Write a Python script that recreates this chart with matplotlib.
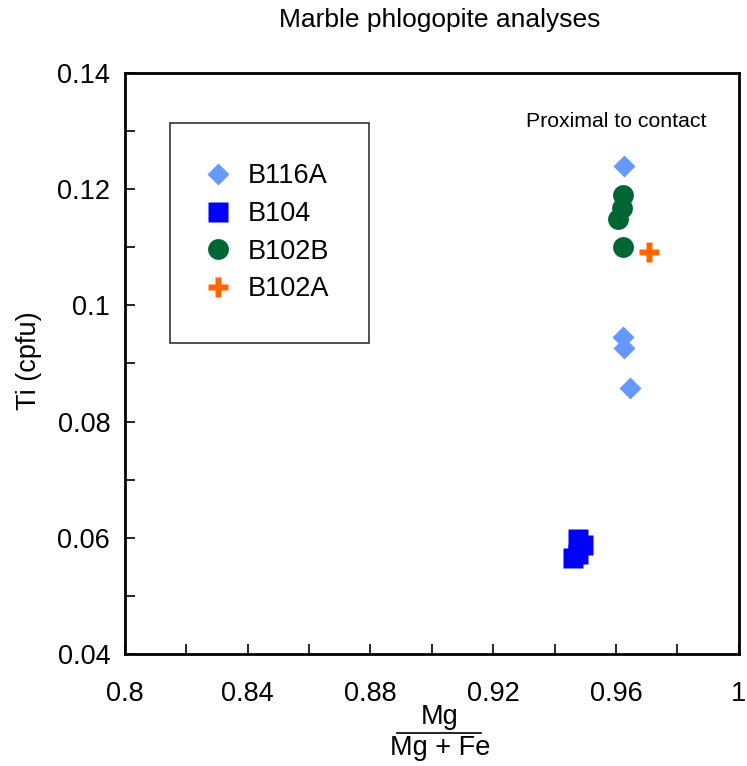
import matplotlib
matplotlib.use("Agg")
import matplotlib.pyplot as plt

plt.rcParams['font.family'] = ['Liberation Sans', 'DejaVu Sans']

# data
b116a_x = [0.9626, 0.9624, 0.9626, 0.9646]
b116a_y = [0.1239, 0.0945, 0.0926, 0.0857]
b104_x = [0.9475, 0.9492, 0.9476, 0.9459]
b104_y = [0.0598, 0.0587, 0.0573, 0.0565]
b102b_x = [0.9623, 0.9621, 0.9607, 0.9623]
b102b_y = [0.1190, 0.1167, 0.1148, 0.1100]
b102a_x = [0.9707]
b102a_y = [0.1091]

xticks = [0.8, 0.84, 0.88, 0.92, 0.96, 1.0]
xticklabels = ['0.8', '0.84', '0.88', '0.92', '0.96', '1']
xminor = [0.82, 0.86, 0.90, 0.94, 0.98]
yticks = [0.04, 0.06, 0.08, 0.1, 0.12, 0.14]
yticklabels = ['0.04', '0.06', '0.08', '0.1', '0.12', '0.14']
yminor = [0.05, 0.07, 0.09, 0.11, 0.13]

fig = plt.figure(figsize=(7.47, 7.66), dpi=100)
ax = fig.add_axes([0.167, 0.146, 0.822, 0.759])

ax.plot(b116a_x, b116a_y, 'D', color='#6699ff', ms=11.5, mec='none', label='B116A')
ax.plot(b104_x, b104_y, 's', color='#0000ff', ms=14, mec='none', label='B104')
ax.plot(b102b_x, b102b_y, 'o', color='#006633', ms=15, mec='none', label='B102B')
ax.plot(b102a_x, b102a_y, 'P', color='#ff6600', ms=15, mec='none', label='B102A')

ax.set_xlim(0.8, 1.0)
ax.set_ylim(0.04, 0.14)
ax.set_xticks(xticks)
ax.set_xticklabels(xticklabels)
ax.set_xticks(xminor, minor=True)
ax.set_yticks(yticks)
ax.set_yticklabels(yticklabels)
ax.set_yticks(yminor, minor=True)
ax.tick_params(axis='x', which='both', direction='in', length=7, width=1.2,
               labelsize=19.5, pad=19)
ax.tick_params(axis='y', which='both', direction='in', length=7, width=1.2,
               labelsize=19.5, pad=10.5)
for s in ax.spines.values():
    s.set_linewidth(2)

ax.set_ylabel('Ti (cpfu)', fontsize=19.5)
ax.yaxis.set_label_coords(-0.135, 0.505)
fig.text(0.588, 0.974, 'Marble phlogopite analyses', ha='center', va='center', fontsize=19)
ax.text(0.80, 0.916, 'Proximal to contact', transform=ax.transAxes,
        ha='center', va='center', fontsize=15.3)

# fraction as x label
fig.text(0.589, 0.064, 'Mg', ha='center', va='center', fontsize=19.5)
fig.text(0.589, 0.023, 'Mg + Fe', ha='center', va='center', fontsize=19.5)
fig.add_artist(plt.Line2D([0.531, 0.644], [0.043, 0.043], color='black', lw=1.2))

leg = ax.legend(loc='upper left', bbox_to_anchor=(0.073, 0.914), fontsize=19.5,
                frameon=True, fancybox=False, edgecolor='black', borderpad=1.5,
                handletextpad=0.82, labelspacing=0.43, borderaxespad=0,
                handlelength=0.55, markerscale=1.0)
leg.get_frame().set_linewidth(1.2)

fig.savefig('out.png', dpi=100)
